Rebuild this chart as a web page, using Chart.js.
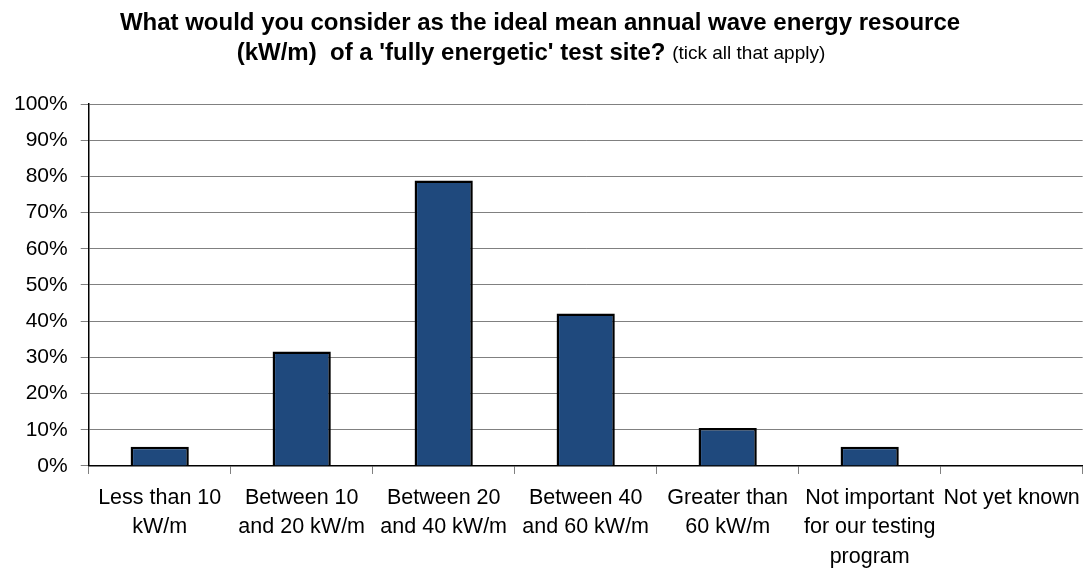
<!DOCTYPE html>
<html>
<head>
<meta charset="utf-8">
<script src="https://cdn.jsdelivr.net/npm/chart.js@4"></script>
<style>
  html, body { margin: 0; padding: 0; background: #fff; }
  #wrap { width: 1089px; height: 573px; position: relative; }
</style>
</head>
<body>
<div id="wrap"><canvas id="myChart"></canvas></div>
<script>
const FONT = "'Liberation Sans Narrow', 'Arial Narrow', 'Liberation Sans', Arial, sans-serif";

const categories = [
    ['Less than 10', 'kW/m'],
    ['Between 10', 'and 20 kW/m'],
    ['Between 20', 'and 40 kW/m'],
    ['Between 40', 'and 60 kW/m'],
    ['Greater than', '60 kW/m'],
    ['Not important', 'for our testing', 'program'],
    ['Not yet known']
];
const responses = [5.3, 31.6, 78.9, 42.1, 10.5, 5.3, 0];
const yTicks = [0, 10, 20, 30, 40, 50, 60, 70, 80, 90, 100];

const titleLine1 = 'What would you consider as the ideal mean annual wave energy resource';
const titleLine2 = "(kW/m)  of a 'fully energetic' test site?";
const titleNote = '(tick all that apply)';

// title with a smaller, non-bold note on the second line
const titlePlugin = {
    id: 'mixedTitle',
    afterDraw(chart) {
        const c = chart.ctx;
        c.save();
        c.fillStyle = '#000';
        c.textBaseline = 'middle';
        c.textAlign = 'left';
        c.font = 'bold 24px ' + FONT;
        const w1 = c.measureText(titleLine1).width;
        c.fillText(titleLine1, 540 - w1 / 2, 23);
        const w2 = c.measureText(titleLine2 + ' ').width;
        c.font = '19px ' + FONT;
        const w3 = c.measureText(titleNote).width;
        const x0 = 531 - (w2 + w3) / 2;
        c.font = 'bold 24px ' + FONT;
        c.fillText(titleLine2 + ' ', x0, 53);
        c.font = '19px ' + FONT;
        c.fillText(titleNote, x0 + w2, 54);
        c.restore();
    }
};

const ctx = document.getElementById('myChart').getContext('2d');
const myChart = new Chart(ctx, {
    type: 'bar',
    data: {
        labels: categories,
        datasets: [{
            data: responses,
            backgroundColor: '#1f497d',
            borderColor: '#000',
            borderWidth: 2.5,
            barPercentage: 0.41,
            categoryPercentage: 1
        }]
    },
    options: {
        responsive: true,
        maintainAspectRatio: false,
        animation: false,
        layout: {
            padding: { top: 104, right: 3, left: 1, bottom: -8 }
        },
        plugins: {
            legend: { display: false },
            tooltip: { enabled: false }
        },
        scales: {
            x: {
                offset: true,
                border: { color: '#000', width: 1.5 },
                grid: {
                    offset: true,
                    drawOnChartArea: false,
                    drawTicks: true,
                    tickLength: 8,
                    color: '#808080'
                },
                ticks: {
                    color: '#000',
                    font: { family: FONT, size: 21.5, lineHeight: 1.38 },
                    maxRotation: 0,
                    autoSkip: false,
                    padding: 9
                }
            },
            y: {
                min: 0,
                max: 100,
                afterBuildTicks: axis => {
                    axis.ticks = yTicks.map(v => ({ value: v }));
                },
                border: { color: '#000', width: 1.5 },
                grid: {
                    color: '#808080',
                    lineWidth: 1,
                    tickLength: 8
                },
                ticks: {
                    color: '#000',
                    font: { family: FONT, size: 21 },
                    padding: 13,
                    callback: v => v + '%'
                }
            }
        }
    },
    plugins: [titlePlugin]
});
</script>
</body>
</html>
